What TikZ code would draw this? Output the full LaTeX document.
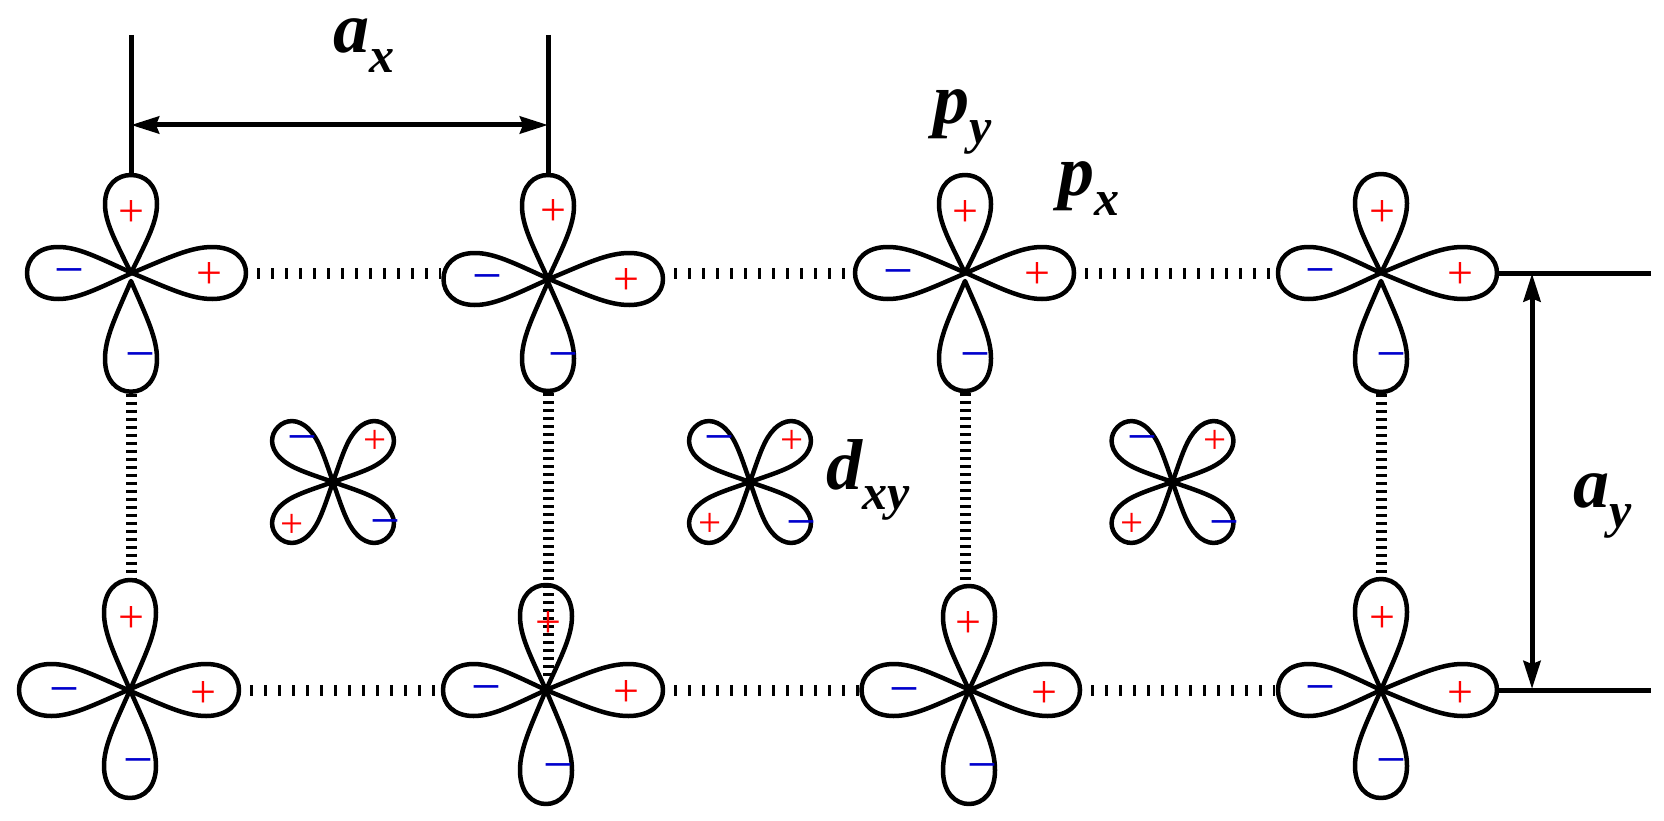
\documentclass[tikz,border=0pt]{standalone}
\usepackage{fontspec}
\setmainfont{Liberation Serif}
\usetikzlibrary{arrows.meta}
\definecolor{minusblue}{RGB}{0,0,204}
\newcommand{\lobeshape}{(0,0) .. controls (16,36) and (26,56) .. (26,76) .. controls (26,97) and (14,108) .. (0,108) .. controls (-14,108) and (-26,97) .. (-26,76) .. controls (-26,56) and (-16,36) .. (0,0) -- cycle}
% name, axis x, axis y, horizontal tip x, bottom tip y, left, right, top, bottom
\newcommand{\atomorb}[9]{%
  \coordinate (#1) at (#2,#3);
  \coordinate (#1-l) at (#6,#3);
  \coordinate (#1-r) at (#7,#3);
  \coordinate (#1-t) at (#2,#8);
  \coordinate (#1-b) at (#2,#9);
  \pgfmathsetmacro{\lobeT}{(#3-#8)/108}
  \pgfmathsetmacro{\lobeB}{(#9-#5)/108}
  \pgfmathsetmacro{\lobeL}{(#4-#6)/108}
  \pgfmathsetmacro{\lobeR}{(#7-#4)/108}
  \draw[lobe,shift={(#2,#3)},rotate=180,yscale=\lobeT] \lobeshape;
  \draw[lobe,shift={(#2,#5)},yscale=\lobeB] \lobeshape;
  \draw[lobe,shift={(#4,#3)},rotate=-90,yscale=\lobeL] \lobeshape;
  \draw[lobe,shift={(#4,#3)},rotate=90,yscale=\lobeR] \lobeshape;
}
\newcommand{\dorb}[3]{%
  \coordinate (#1) at (#2,#3);
  \foreach \r in {45,135,225,315}{\draw[lobe,shift={(#2,#3)},rotate=\r,xscale=.78,yscale=.72] \lobeshape;}
}
\newcommand{\bilabel}[2]{{\bfseries\itshape\fontsize{72}{72}\selectfont #2\raisebox{-20pt}{\fontsize{50}{50}\selectfont #1}}}
\tikzset{
  lobe/.style={draw=black,line width=4.5pt,line join=round},
  plussign/.style={inner sep=0pt,text=red,yshift=-3pt,font=\fontsize{46}{46}\selectfont},
  dplus/.style={inner sep=0pt,text=red,yshift=-3pt,font=\fontsize{41}{41}\selectfont},
  minussign/.style={inner sep=0pt,text=minusblue,xshift=1.5pt,yshift=-9.5pt,font=\fontsize{53}{53}\selectfont},
  hdots/.style={line width=11pt,dash pattern=on 3pt off 11pt},
  vdots/.style={line width=11pt,dash pattern=on 3.4pt off 4.6pt},
  dimline/.style={line width=5pt},
  dimarrow/.style={line width=5pt,{Stealth[length=28pt,width=17pt,inset=3pt]}-{Stealth[length=28pt,width=17pt,inset=3pt]}},
  lab/.style={inner sep=0pt,anchor=base west}
}
\begin{document}
\begin{tikzpicture}[x=1pt,y=-1pt]
\useasboundingbox (0,0) rectangle (1664,821);
% p orbitals
\atomorb{A1}{131}{273}{132}{281}{27}{246}{175}{391.7}
\atomorb{A2}{548}{279}{549}{282}{443.5}{663}{175}{391}
\atomorb{A3}{965}{273}{966}{281}{855}{1074}{175}{391}
\atomorb{A4}{1381}{273}{1381}{281}{1278}{1497}{174}{392}
\atomorb{B1}{130}{690}{128}{690}{19}{239}{580}{798}
\atomorb{B2}{546}{690}{546}{690}{443}{663}{585}{804}
\atomorb{B3}{969}{690}{970}{690}{861.5}{1080}{586}{804}
\atomorb{B4}{1381}{690}{1381}{690}{1278}{1497}{579}{798}
% d orbitals
\dorb{D1}{333}{482}
\dorb{D2}{750}{482}
\dorb{D3}{1172.5}{482}
% dotted bonds
\foreach \a/\b in {A1/A2,A2/A3,A3/A4}{
  \draw[hdots,shorten <=11pt,shorten >=3pt] (\a-r |- A1) -- (\b-l |- A1);
}
\foreach \a/\b in {B1/B2,B2/B3,B3/B4}{
  \draw[hdots,shorten <=11pt,shorten >=3pt] (\a-r) -- (\b-l);
}
\foreach \a/\b in {A1/B1,A3/B3,A4/B4}{
  \draw[vdots,shorten <=2pt,shorten >=2pt] (\a-b) -- (\a-b |- \b-t);
}
\draw[vdots,shorten <=2pt,shorten >=14pt] (A2-b) -- (A2-b |- B2);
% signs
\foreach \n/\x/\y in {pa/131/211,pb/209/273,pc/553/210,pd/626/279,pe/965/211,pf/1037/273,pg/1382/211,ph/1460/273,pi/131/616,pj/203/691,pk/548/622,pl/626/690,pm/968/622,pn/1044/691,po/1382/616,pp/1460/691}{
  \node[plussign] (\n) at (\x,\y) {+};
}
\foreach \n/\x/\y in {qa/375/439,qb/292/523,qc/792/439,qd/710/522,qe/1215/439,qf/1132/522}{
  \node[dplus] (\n) at (\x,\y) {+};
}
\foreach \n/\x/\y in {ma/68/269,mb/139/353,mc/486/275,md/562/353,me/897/269.5,mf/974/353,mg/1319/269,mh/1390/353,mi/62.6/687.6,mj/137/759,mk/485/686,ml/557/764,mm/903/688,mn/980.5/764,mo/1319/686,mp/1390/759,mq/300.7/436,mr/383.7/520,ms/718/436,mt/800/521,mu/1141/436,mv/1222.5/521}{
  \node[minussign] (\n) at (\x,\y) {−};
}
% dimensions
\coordinate (ax1) at (131,35);
\coordinate (ax2) at (548,35);
\coordinate (ay1) at (1651,273.5);
\coordinate (ay2) at (1651,690);
\draw[dimline] (ax1) -- (A1-t);
\draw[dimline] (ax2) -- (A2-t);
\draw[dimline] (A4-r |- ay1) -- (ay1);
\draw[dimline] (B4-r |- ay2) -- (ay2);
\coordinate (axa) at (131,125);
\coordinate (axb) at (548,125);
\coordinate (aya) at (1532,273.5);
\coordinate (ayb) at (1532,689);
\draw[dimarrow] (axa) -- (axb);
\draw[dimarrow] (aya) -- (ayb);
% labels
\node[lab] (lax) at (333,53) {\bilabel{x}{a}};
\node[lab] (lay) at (1573,507) {\bilabel{y}{a}};
\node[lab] (lpy) at (933,124) {\bilabel{y}{p}};
\node[lab] (lpx) at (1058,196) {\bilabel{x}{p}};
\node[lab] (ldxy) at (826,489) {\bilabel{xy}{d}};
\end{tikzpicture}
\end{document}
